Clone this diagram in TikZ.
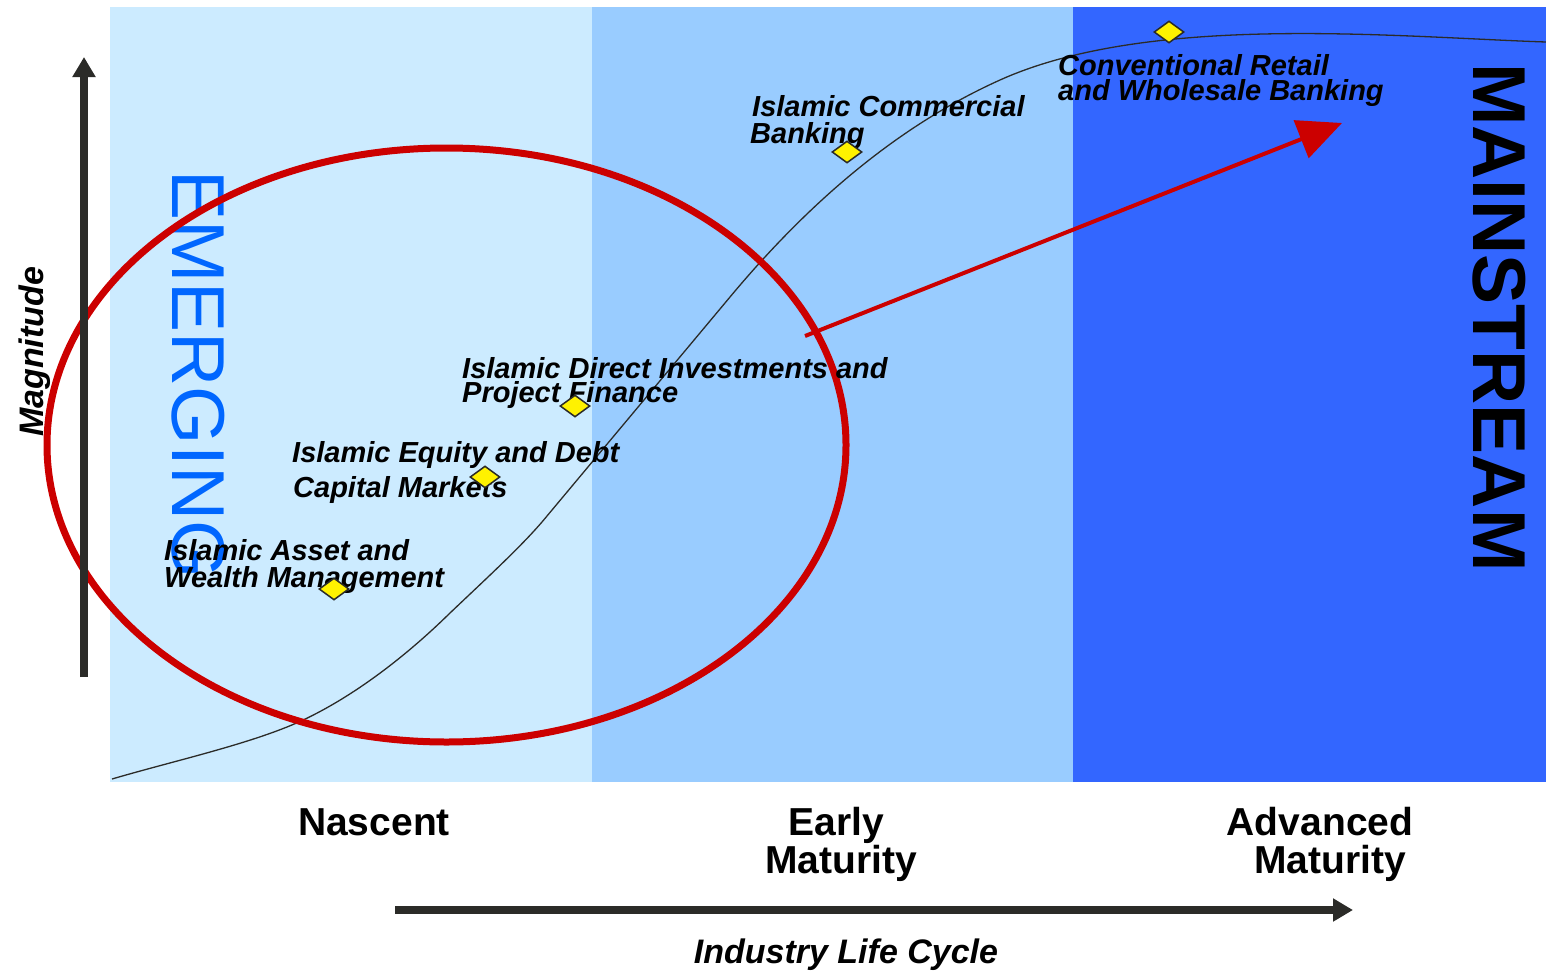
\documentclass[tikz,border=0pt]{standalone}
\usepackage{fontspec}
\setmainfont{Liberation Sans}
\usetikzlibrary{shapes.geometric,arrows.meta}
\definecolor{bandA}{HTML}{CCEBFF}
\definecolor{bandB}{HTML}{99CCFF}
\definecolor{bandC}{HTML}{3366FF}
\definecolor{emblue}{HTML}{0066FF}
\definecolor{axisgray}{HTML}{2B2B28}
\definecolor{ellred}{HTML}{CC0000}
\begin{document}
\begin{tikzpicture}[x=1pt,y=-1pt,
  lbl/.style={anchor=base west, inner sep=0pt, font=\fontsize{29}{29}\selectfont\bfseries\itshape},
  stage/.style={anchor=base, inner sep=0pt, font=\fontsize{39}{39}\selectfont\bfseries},
  marker/.style={diamond, draw=axisgray, line width=1.5pt, fill=yellow, minimum width=30pt, minimum height=22pt, inner sep=0pt},
  axisarrow/.style={draw=axisgray, line width=8pt, -{Triangle[length=20pt,width=22pt]}},
  bigword/.style={rotate=-90, anchor=base west, inner sep=0pt},
]
\useasboundingbox (0,0) rectangle (1546,972);
% bands
\fill[bandA] (110,7) rectangle (592,782);
\fill[bandB] (592,7) rectangle (1073,782);
\fill[bandC] (1073,7) rectangle (1546,782);
% big words
\node[bigword, text=emblue, font=\fontsize{75}{75}\selectfont] (emerging) at (172,170) {EMERGING};
\node[bigword, text=black, font=\fontsize{75}{75}\selectfont\bfseries] (mainstream) at (1473,63) {MAINSTREAM};
% life-cycle curve
\draw[axisgray, line width=1.3pt, line join=round]
  (112,779) .. controls (170,762) and (237,747) .. (287,727)
  .. controls (337,707) and (395,667) .. (450,613)
  .. controls (490,575) and (525,543) .. (547,516)
  -- (730,297)
  .. controls (820,189) and (910,120.5) .. (1000,80)
  .. controls (1150,12.5) and (1396,37) .. (1546,42);
% ellipse
\draw[ellred, line width=7pt] (446.5,445) ellipse [x radius=399.5pt, y radius=297pt];
% red arrow
\coordinate (rs) at (805,336);
\coordinate (rt) at (1342,123);
\draw[ellred, line width=4pt, -{Triangle[length=44pt,width=40pt]}] (rs) -- (rt);
% axes
\coordinate (va) at (84,677);
\coordinate (vb) at (84,57);
\draw[axisarrow] (va) -- (vb);
\coordinate (ha) at (395,910);
\coordinate (hb) at (1353,910);
\draw[axisarrow] (ha) -- (hb);
% axis labels
\node[rotate=90, anchor=base west, inner sep=0pt, font=\fontsize{34}{34}\selectfont\bfseries\itshape] (mag) at (43,437) {Magnitude};
\node[anchor=base, inner sep=0pt, font=\fontsize{34}{34}\selectfont\bfseries\itshape] (ilc) at (846,963) {Industry Life Cycle};
% stage labels
\node[stage] (nascent) at (374,835) {Nascent};
\node[stage] (early1) at (836,835) {Early};
\node[stage] (early2) at (841,873) {Maturity};
\node[stage] (adv1) at (1320,835) {Advanced};
\node[stage] (adv2) at (1330,873) {Maturity};
% segment labels
\node[lbl] (cr1) at (1058,75) {Conventional Retail};
\node[lbl] (cr2) at (1058,100) {and Wholesale Banking};
\node[lbl] (cb1) at (752,116) {Islamic Commercial};
\node[lbl] (cb2) at (750,143) {Banking};
\node[lbl] (di1) at (462,378) {Islamic Direct Investments and};
\node[lbl] (di2) at (462,402) {Project Finance};
\node[lbl] (ed1) at (292,462) {Islamic Equity and Debt};
\node[lbl] (ed2) at (293,497) {Capital Markets};
\node[lbl] (aw1) at (164,560) {Islamic Asset and};
\node[lbl] (aw2) at (164,587) {Wealth Management};
% markers
\node[marker] (m1) at (334,589) {};
\node[marker] (m2) at (485,477) {};
\node[marker] (m3) at (575,406) {};
\node[marker] (m4) at (847,152) {};
\node[marker] (m5) at (1169,32) {};
\end{tikzpicture}
\end{document}
